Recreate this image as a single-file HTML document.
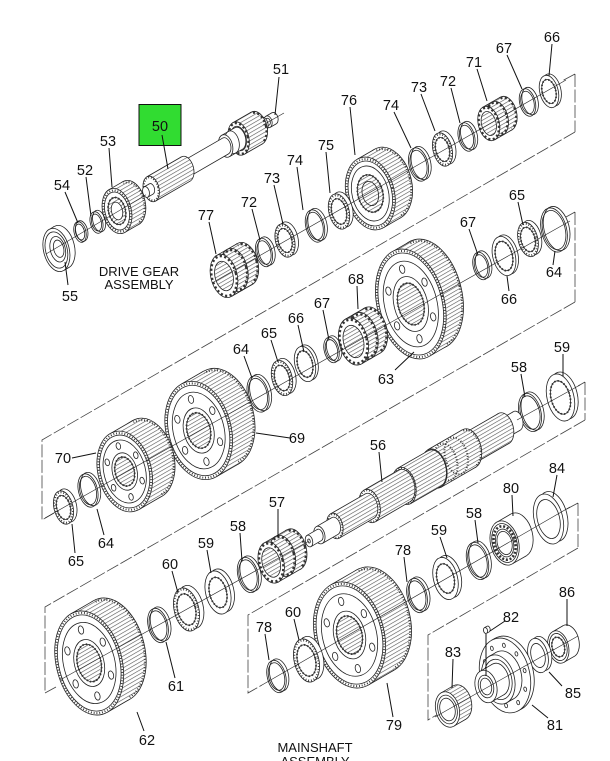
<!DOCTYPE html>
<html><head><meta charset="utf-8"><style>
html,body{margin:0;padding:0;background:#fff}
svg{display:block}
.o{fill:none;stroke:#222;stroke-width:.8}
.w{fill:#fff;stroke:#222;stroke-width:.8}
.f{fill:#fff}
.h{fill:url(#hp);stroke:#222;stroke-width:.8}
.hn{fill:url(#hp)}
.t{fill:none;stroke:#333;stroke-width:2;stroke-dasharray:.9 1.9}
.ti{fill:none;stroke:#333;stroke-width:1.8;stroke-dasharray:1.4 2}
.tb{fill:none;stroke:#333;stroke-width:2.4;stroke-dasharray:2.2 2.4}
.r{fill:none;stroke:#333;stroke-width:2.6;stroke-dasharray:2 1.8}
.d{fill:none;stroke:#444;stroke-width:.8;stroke-dasharray:13 2.5}
.ax{stroke:#222;stroke-width:.6;fill:none}
.ld{stroke:#111;stroke-width:1;fill:none}
text{font-family:"Liberation Sans",Arial,sans-serif;font-size:14.5px;fill:#111;text-anchor:middle}
.cap{font-size:13px}
</style></head><body>
<svg width="610" height="761" viewBox="0 0 610 761" xmlns="http://www.w3.org/2000/svg">
<defs><pattern id="hp" patternUnits="userSpaceOnUse" width="3.4" height="3.4" patternTransform="rotate(-16)"><rect width="3.4" height="3.4" fill="#fff"/><path d="M0 .8H3.4" stroke="#444" stroke-width=".55"/></pattern></defs>

<path class="d" d="M575,74V132M575,74L562,81M575,132L42,440V520L54,513M575,212V302M575,212L566,217M575,302L45,607V693L56,687M585,382V420M585,382L578,386M585,420L248,615V693L262,685M578,503V548M578,503L565,510M578,548L428,635V720L440,713"/>

<g transform="translate(268,121.8) rotate(-14)">
<ellipse cx="6.7" cy="-1.9" rx="4" ry="6" class="w"/>
<path class="f" d="M.7,5.9L7.4,4L6,-7.8L-.7,-5.9Z"/>
<path class="o" d="M.7,5.9L7.4,4M-.7,-5.9L6,-7.8"/>
<ellipse rx="4" ry="6" class="w"/><ellipse rx="2.3" ry="3.6" class="o"/>
</g>
<g transform="translate(146,192) rotate(-14)">
<ellipse cx="130.7" cy="-37.5" rx="4.2" ry="7" class="w"/>
<path class="f" d="M123.8,-28.4L131.5,-30.6L129.9,-44.4L122.2,-42.2Z"/>
<path class="o" d="M123.8,-28.4L131.5,-30.6M122.2,-42.2L129.9,-44.4"/>
<ellipse cx="123" cy="-35.3" rx="4.2" ry="7" class="w"/>
<ellipse cx="123" cy="-35.3" rx="10.2" ry="17" class="h"/>
<ellipse cx="123" cy="-35.3" rx="9.4" ry="15.7" class="tb"/>
<path class="hn" d="M104.6,-12.8L124.8,-18.6L121.2,-52L101,-46.2Z"/>
<path class="o" d="M104.6,-12.8L124.8,-18.6M101,-46.2L121.2,-52"/>
<ellipse cx="102.8" cy="-29.5" rx="10.2" ry="17" class="w"/>
<ellipse cx="102.8" cy="-29.5" rx="9.4" ry="15.7" class="tb"/>
<ellipse cx="102.8" cy="-29.5" rx="7.5" ry="12.5" class="o"/>
<ellipse cx="102.8" cy="-29.5" rx="6.9" ry="11.5" class="w"/>
<path class="f" d="M89.6,-14.1L104,-18.2L101.6,-40.8L87.2,-36.7Z"/>
<path class="o" d="M89.6,-14.1L104,-18.2M87.2,-36.7L101.6,-40.8"/>
<ellipse cx="95.6" cy="-27.5" rx="6.9" ry="11.5" class="o"/>
<ellipse cx="88.4" cy="-25.4" rx="6.9" ry="11.5" class="w"/>
<ellipse cx="88.4" cy="-25.4" rx="5.1" ry="8.5" class="w"/>
<path class="f" d="M45.1,-4.3L89.3,-17L87.5,-33.8L43.3,-21.1Z"/>
<path class="o" d="M45.1,-4.3L89.3,-17M43.3,-21.1L87.5,-33.8"/>
<ellipse cx="44.2" cy="-12.7" rx="5.1" ry="8.5" class="w"/>
<ellipse cx="44.2" cy="-12.7" rx="7.8" ry="13" class="h"/>
<path class="hn" d="M7.2,11.1L45.6,.1L42.8,-25.5L4.4,-14.5Z"/>
<path class="o" d="M7.2,11.1L45.6,.1M4.4,-14.5L42.8,-25.5"/>
<ellipse cx="5.8" cy="-1.7" rx="7.8" ry="13" class="w"/>
<ellipse cx="5.8" cy="-1.7" rx="7.1" ry="11.8" class="t"/>
<ellipse cx="5.8" cy="-1.7" rx="3.3" ry="5.5" class="w"/>
<path class="f" d="M.6,5.4L6.4,3.7L5.2,-7.1L-.6,-5.4Z"/>
<path class="o" d="M.6,5.4L6.4,3.7M-.6,-5.4L5.2,-7.1"/>
<ellipse rx="3.3" ry="5.5" class="w"/>
</g>
<g transform="translate(117,211) rotate(-14)">
<ellipse cx="15.4" cy="-4.4" rx="14.3" ry="23" class="h"/>
<ellipse cx="15.4" cy="-4.4" rx="13.1" ry="21" class="t"/>
<path class="hn" d="M2.6,22.6L18,18.2L12.8,-27L-2.6,-22.6Z"/>
<path class="o" d="M2.6,22.6L18,18.2M-2.6,-22.6L12.8,-27"/>
<ellipse rx="14.3" ry="23" class="w"/><ellipse rx="13.1" ry="21" class="t"/><ellipse rx="12" ry="19.3" class="o"/>
<ellipse rx="8.5" ry="13.8" class="h"/><ellipse rx="8.5" ry="13.8" class="ti"/><ellipse rx="5.5" ry="9" class="w"/>
</g>
<g transform="translate(96.5,222.5) rotate(-14)"><ellipse cx="2.9" cy="-.8" rx="6.2" ry="11" class="o"/><ellipse rx="6.2" ry="11" class="o"/><ellipse rx="4.8" ry="8.6" class="o"/></g>
<g transform="translate(80,232) rotate(-14)"><ellipse cx="1.9" cy="-.55" rx="5.9" ry="10.5" class="o"/><ellipse rx="5.9" ry="10.5" class="o"/><ellipse rx="4.5" ry="8.1" class="o"/></g>
<g transform="translate(56.4,250) rotate(-14)">
<ellipse cx="5.8" cy="-1.7" rx="12.8" ry="22" class="w"/>
<path class="f" d="M2.3,21.6L8.1,19.9L3.5,-23.3L-2.3,-21.6Z"/>
<path class="o" d="M2.3,21.6L8.1,19.9M-2.3,-21.6L3.5,-23.3"/>
<ellipse rx="12.8" ry="22" class="w"/><ellipse rx="10.8" ry="18.5" class="o"/>
<ellipse cx="1.5" cy="-.4" rx="7.5" ry="13" class="w"/><ellipse cx="2.5" cy="-.7" rx="5" ry="8.8" class="o"/>
</g>

<g transform="translate(549,91.5) rotate(-14)"><ellipse cx="2.9" cy="-.8" rx="9.2" ry="16.5" class="w"/><ellipse rx="9.2" ry="16.5" class="w"/><ellipse rx="6.8" ry="12.2" class="w"/><ellipse rx="6.8" ry="12.2" class="ti"/></g>
<g transform="translate(527.5,102.5) rotate(-14)"><ellipse cx="2.9" cy="-.8" rx="7.8" ry="14" class="o"/><ellipse rx="7.8" ry="14" class="o"/><ellipse rx="6.4" ry="11.5" class="o"/></g>
<g transform="translate(488.8,123.5) rotate(-14)">
<ellipse cx="19.2" cy="-5.5" rx="10.5" ry="17.5" class="h"/>
<ellipse cx="19.2" cy="-5.5" rx="9.7" ry="16.2" class="tb"/>
<path class="hn" d="M1.9,17.2L21.1,11.7L17.3,-22.7L-1.9,-17.2Z"/>
<path class="o" d="M1.9,17.2L21.1,11.7M-1.9,-17.2L17.3,-22.7"/>
<ellipse cx="9.6" cy="-2.8" rx="10.5" ry="17.5" class="o"/>
<ellipse cx="9.6" cy="-2.8" rx="9.7" ry="16.2" class="tb"/>
<ellipse rx="10.5" ry="17.5" class="w"/><ellipse rx="9.7" ry="16.2" class="tb"/><ellipse rx="7.3" ry="12.2" class="h"/>
</g>
<g transform="translate(466.5,137) rotate(-14)"><ellipse cx="2.9" cy="-.8" rx="8.1" ry="14.5" class="o"/><ellipse rx="8.1" ry="14.5" class="o"/><ellipse rx="6.7" ry="12" class="o"/></g>
<g transform="translate(442.5,149.5) rotate(-14)"><ellipse cx="3.8" cy="-1.1" rx="9.5" ry="17" class="w"/><ellipse rx="9.5" ry="17" class="w"/><ellipse rx="8.7" ry="15.5" class="t"/><ellipse rx="6.8" ry="12.2" class="w"/><ellipse rx="6.8" ry="12.2" class="ti"/></g>
<g transform="translate(418.5,164.5) rotate(-14)"><ellipse cx="2.9" cy="-.8" rx="9.5" ry="17" class="o"/><ellipse rx="9.5" ry="17" class="o"/><ellipse rx="8.1" ry="14.5" class="o"/></g>
<g transform="translate(370.3,193.5) rotate(-14)">
<ellipse cx="19.2" cy="-5.5" rx="24" ry="37" class="h"/>
<ellipse cx="19.2" cy="-5.5" rx="22.7" ry="35" class="t"/>
<path class="hn" d="M4.3,36.4L23.5,30.9L14.9,-41.9L-4.3,-36.4Z"/>
<path class="o" d="M4.3,36.4L23.5,30.9M-4.3,-36.4L14.9,-41.9"/>
<ellipse rx="24" ry="37" class="w"/><ellipse rx="22.7" ry="35" class="t"/><ellipse rx="21.4" ry="33" class="o"/>
<ellipse rx="18.2" ry="28" class="o"/>
<ellipse rx="12.5" ry="19" class="h"/><ellipse rx="12.5" ry="19" class="ti"/><ellipse rx="8" ry="12.3" class="o"/>
</g>
<g transform="translate(339,211.5) rotate(-14)"><ellipse cx="3.8" cy="-1.1" rx="10.1" ry="18" class="w"/><ellipse rx="10.1" ry="18" class="w"/><ellipse rx="9.3" ry="16.5" class="t"/><ellipse rx="7.3" ry="13" class="w"/><ellipse rx="7.3" ry="13" class="ti"/></g>
<g transform="translate(315,226) rotate(-14)"><ellipse cx="2.9" cy="-.8" rx="9.2" ry="16.5" class="o"/><ellipse rx="9.2" ry="16.5" class="o"/><ellipse rx="7.8" ry="14" class="o"/></g>
<g transform="translate(285,240.5) rotate(-14)"><ellipse cx="3.8" cy="-1.1" rx="9.5" ry="17" class="w"/><ellipse rx="9.5" ry="17" class="w"/><ellipse rx="8.7" ry="15.5" class="t"/><ellipse rx="6.8" ry="12.2" class="w"/><ellipse rx="6.8" ry="12.2" class="ti"/></g>
<g transform="translate(264,252.5) rotate(-14)"><ellipse cx="2.9" cy="-.8" rx="8.1" ry="14.5" class="o"/><ellipse rx="8.1" ry="14.5" class="o"/><ellipse rx="6.7" ry="12" class="o"/></g>
<g transform="translate(224,276) rotate(-14)">
<ellipse cx="23.1" cy="-6.6" rx="13.2" ry="22" class="h"/>
<ellipse cx="23.1" cy="-6.6" rx="12.2" ry="20.3" class="tb"/>
<path class="hn" d="M2.4,21.6L25.5,15L20.7,-28.2L-2.4,-21.6Z"/>
<path class="o" d="M2.4,21.6L25.5,15M-2.4,-21.6L20.7,-28.2"/>
<ellipse cx="11.5" cy="-3.3" rx="13.2" ry="22" class="o"/>
<ellipse cx="11.5" cy="-3.3" rx="12.2" ry="20.3" class="tb"/>
<ellipse rx="13.2" ry="22" class="w"/><ellipse rx="12.2" ry="20.3" class="tb"/><ellipse rx="9" ry="15" class="h"/>
</g>

<g transform="translate(554,230) rotate(-14)"><ellipse cx="2.9" cy="-.8" rx="12.6" ry="22.5" class="o"/><ellipse rx="12.6" ry="22.5" class="o"/><ellipse rx="11.2" ry="20" class="o"/></g>
<g transform="translate(528,239.5) rotate(-14)"><ellipse cx="3.8" cy="-1.1" rx="9.8" ry="17.5" class="w"/><ellipse rx="9.8" ry="17.5" class="w"/><ellipse rx="9" ry="16" class="t"/><ellipse rx="7" ry="12.5" class="w"/><ellipse rx="7" ry="12.5" class="ti"/></g>
<g transform="translate(504,256) rotate(-14)"><ellipse cx="2.9" cy="-.8" rx="11.2" ry="20" class="w"/><ellipse rx="11.2" ry="20" class="w"/><ellipse rx="8.4" ry="15" class="w"/><ellipse rx="8.4" ry="15" class="ti"/></g>
<g transform="translate(481,266) rotate(-14)"><ellipse cx="2.9" cy="-.8" rx="7.8" ry="14" class="o"/><ellipse rx="7.8" ry="14" class="o"/><ellipse rx="6.4" ry="11.5" class="o"/></g>
<g transform="translate(410.8,304) rotate(-14)">
<ellipse cx="19.2" cy="-5.5" rx="33.6" ry="56" class="h"/>
<ellipse cx="19.2" cy="-5.5" rx="32.4" ry="54" class="t"/>
<path class="hn" d="M6,55L25.2,49.5L13.2,-60.5L-6,-55Z"/>
<path class="o" d="M6,55L25.2,49.5M-6,-55L13.2,-60.5"/>
<ellipse rx="33.6" ry="56" class="w"/><ellipse rx="32.4" ry="54" class="t"/><ellipse rx="31.2" ry="52" class="o"/>
<ellipse rx="26.2" ry="43.7" class="o"/>
<ellipse cx="18.6" cy="17.9" rx="2.6" ry="4.2" class="o"/><ellipse cx="0" cy="35.8" rx="2.6" ry="4.2" class="o"/><ellipse cx="-18.6" cy="17.9" rx="2.6" ry="4.2" class="o"/><ellipse cx="-18.6" cy="-17.9" rx="2.6" ry="4.2" class="o"/><ellipse cx="0" cy="-35.8" rx="2.6" ry="4.2" class="o"/><ellipse cx="18.6" cy="-17.9" rx="2.6" ry="4.2" class="o"/>
<ellipse rx="16.8" ry="28" class="o"/>
<ellipse rx="12.8" ry="21.3" class="h"/><ellipse rx="12.8" ry="21.3" class="ti"/>
</g>
<g transform="translate(353.5,341.5) rotate(-14)">
<ellipse cx="21.1" cy="-6.1" rx="14.4" ry="24" class="h"/>
<ellipse cx="21.1" cy="-6.1" rx="13.3" ry="22.2" class="tb"/>
<path class="hn" d="M2.6,23.6L23.7,17.5L18.5,-29.7L-2.6,-23.6Z"/>
<path class="o" d="M2.6,23.6L23.7,17.5M-2.6,-23.6L18.5,-29.7"/>
<ellipse cx="10.6" cy="-3" rx="14.4" ry="24" class="o"/>
<ellipse cx="10.6" cy="-3" rx="13.3" ry="22.2" class="tb"/>
<ellipse rx="14.4" ry="24" class="w"/><ellipse rx="13.3" ry="22.2" class="tb"/><ellipse rx="10" ry="16.5" class="h"/>
</g>
<g transform="translate(331.5,350) rotate(-14)"><ellipse cx="2.9" cy="-.8" rx="7.3" ry="13" class="o"/><ellipse rx="7.3" ry="13" class="o"/><ellipse rx="5.9" ry="10.5" class="o"/></g>
<g transform="translate(305,364) rotate(-14)"><ellipse cx="2.9" cy="-.8" rx="10.1" ry="18" class="w"/><ellipse rx="10.1" ry="18" class="w"/><ellipse rx="7.5" ry="13.5" class="w"/><ellipse rx="7.5" ry="13.5" class="ti"/></g>
<g transform="translate(282,378) rotate(-14)"><ellipse cx="3.8" cy="-1.1" rx="10.1" ry="18" class="w"/><ellipse rx="10.1" ry="18" class="w"/><ellipse rx="9.3" ry="16.5" class="t"/><ellipse rx="7.3" ry="13" class="w"/><ellipse rx="7.3" ry="13" class="ti"/></g>
<g transform="translate(258,394) rotate(-14)"><ellipse cx="2.9" cy="-.8" rx="10.4" ry="18.5" class="o"/><ellipse rx="10.4" ry="18.5" class="o"/><ellipse rx="9" ry="16" class="o"/></g>
<g transform="translate(198.7,430.5) rotate(-14)">
<ellipse cx="25" cy="-7.2" rx="32.5" ry="50" class="h"/>
<ellipse cx="25" cy="-7.2" rx="31.2" ry="48" class="t"/>
<path class="hn" d="M5.85,49.2L30.85,42L19.15,-56.4L-5.85,-49.2Z"/>
<path class="o" d="M5.85,49.2L30.85,42M-5.85,-49.2L19.15,-56.4"/>
<ellipse rx="32.5" ry="50" class="w"/><ellipse rx="31.2" ry="48" class="t"/><ellipse rx="29.9" ry="46" class="o"/>
<ellipse rx="25.4" ry="39" class="o"/>
<ellipse cx="18" cy="16" rx="2.6" ry="4" class="o"/><ellipse cx="0" cy="32" rx="2.6" ry="4" class="o"/><ellipse cx="-18" cy="16" rx="2.6" ry="4" class="o"/><ellipse cx="-18" cy="-16" rx="2.6" ry="4" class="o"/><ellipse cx="0" cy="-32" rx="2.6" ry="4" class="o"/><ellipse cx="18" cy="-16" rx="2.6" ry="4" class="o"/>
<ellipse rx="15" ry="23" class="o"/>
<ellipse rx="11.7" ry="18" class="h"/><ellipse rx="11.7" ry="18" class="ti"/>
</g>
<g transform="translate(124.7,471.5) rotate(-14)">
<ellipse cx="25" cy="-7.2" rx="26.7" ry="41" class="h"/>
<ellipse cx="25" cy="-7.2" rx="25.4" ry="39" class="t"/>
<path class="hn" d="M4.8,40.3L29.8,33.1L20.2,-47.5L-4.8,-40.3Z"/>
<path class="o" d="M4.8,40.3L29.8,33.1M-4.8,-40.3L20.2,-47.5"/>
<ellipse rx="26.7" ry="41" class="w"/><ellipse rx="25.4" ry="39" class="t"/><ellipse rx="24.1" ry="37" class="o"/>
<ellipse rx="20.8" ry="32" class="o"/>
<ellipse cx="14.7" cy="13.1" rx="2.2" ry="3.4" class="o"/><ellipse cx="0" cy="26.2" rx="2.2" ry="3.4" class="o"/><ellipse cx="-14.7" cy="13.1" rx="2.2" ry="3.4" class="o"/><ellipse cx="-14.7" cy="-13.1" rx="2.2" ry="3.4" class="o"/><ellipse cx="0" cy="-26.2" rx="2.2" ry="3.4" class="o"/><ellipse cx="14.7" cy="-13.1" rx="2.2" ry="3.4" class="o"/>
<ellipse rx="12.3" ry="19" class="o"/>
<ellipse rx="9.6" ry="14.8" class="h"/><ellipse rx="9.6" ry="14.8" class="ti"/>
</g>
<g transform="translate(88,490.5) rotate(-14)"><ellipse cx="2.9" cy="-.8" rx="9.5" ry="17" class="o"/><ellipse rx="9.5" ry="17" class="o"/><ellipse rx="8.1" ry="14.5" class="o"/></g>
<g transform="translate(63.5,507.5) rotate(-14)"><ellipse cx="3.8" cy="-1.1" rx="9.5" ry="17" class="w"/><ellipse rx="9.5" ry="17" class="w"/><ellipse rx="8.7" ry="15.5" class="t"/><ellipse rx="6.8" ry="12.2" class="w"/><ellipse rx="6.8" ry="12.2" class="ti"/></g>

<g transform="translate(560.5,397.5) rotate(-14)"><ellipse cx="3.8" cy="-1.1" rx="13.4" ry="24" class="w"/><ellipse rx="13.4" ry="24" class="w"/><ellipse rx="9.5" ry="17" class="w"/><ellipse rx="9.5" ry="17" class="ti"/></g>
<g transform="translate(530,412.5) rotate(-14)"><ellipse cx="2.9" cy="-.8" rx="10.9" ry="19.5" class="o"/><ellipse rx="10.9" ry="19.5" class="o"/><ellipse rx="9.5" ry="17" class="o"/></g>
<g transform="translate(309,541) rotate(-14)">
<ellipse cx="230.6" cy="-66.2" rx="6" ry="10" class="w"/>
<path class="f" d="M217.3,-52.3L231.7,-56.4L229.5,-76L215.1,-71.9Z"/>
<path class="o" d="M217.3,-52.3L231.7,-56.4M215.1,-71.9L229.5,-76"/>
<ellipse cx="216.2" cy="-62.1" rx="6" ry="10" class="w"/>
<ellipse cx="216.2" cy="-62.1" rx="9.6" ry="16" class="h"/>
<path class="hn" d="M179.5,-35.4L217.9,-46.4L214.5,-77.8L176.1,-66.8Z"/>
<path class="o" d="M179.5,-35.4L217.9,-46.4M176.1,-66.8L214.5,-77.8"/>
<ellipse cx="177.8" cy="-51.1" rx="9.6" ry="16" class="w"/>
<ellipse cx="177.8" cy="-51.1" rx="9" ry="15" class="t"/>
<ellipse cx="177.8" cy="-51.1" rx="12" ry="20" class="h"/>
<ellipse cx="177.8" cy="-51.1" rx="11.2" ry="18.7" class="t"/>
<path class="hn" d="M141.5,-20.3L180,-31.4L175.6,-70.8L137.1,-59.7Z"/>
<path class="o" d="M141.5,-20.3L180,-31.4M137.1,-59.7L175.6,-70.8"/>
<ellipse cx="163.4" cy="-46.9" rx="11.2" ry="18.7" class="t"/>
<ellipse cx="151.8" cy="-43.6" rx="11.2" ry="18.7" class="t"/>
<ellipse cx="139.3" cy="-40" rx="12" ry="20" class="w"/>
<ellipse cx="139.3" cy="-40" rx="11.2" ry="18.7" class="t"/>
<ellipse cx="139.3" cy="-40" rx="11.4" ry="19" class="h"/>
<path class="hn" d="M107.8,-11.7L141.4,-21.3L137.3,-58.7L103.7,-49.1Z"/>
<path class="o" d="M107.8,-11.7L141.4,-21.3M103.7,-49.1L137.3,-58.7"/>
<ellipse cx="105.7" cy="-30.4" rx="11.4" ry="19" class="w"/>
<ellipse cx="105.7" cy="-30.4" rx="10.8" ry="18" class="t"/>
<ellipse cx="105.7" cy="-30.4" rx="10.2" ry="17" class="h"/>
<path class="hn" d="M69.1,-2.6L107.5,-13.7L103.9,-47.1L65.5,-36Z"/>
<path class="o" d="M69.1,-2.6L107.5,-13.7M65.5,-36L103.9,-47.1"/>
<ellipse cx="67.3" cy="-19.3" rx="10.2" ry="17" class="w"/>
<ellipse cx="67.3" cy="-19.3" rx="9.6" ry="16" class="t"/>
<ellipse cx="67.3" cy="-19.3" rx="7.8" ry="13" class="h"/>
<path class="hn" d="M30.2,4.5L68.7,-6.5L65.9,-32.1L27.4,-21.1Z"/>
<path class="o" d="M30.2,4.5L68.7,-6.5M27.4,-21.1L65.9,-32.1"/>
<ellipse cx="28.8" cy="-8.3" rx="7.8" ry="13" class="w"/>
<ellipse cx="28.8" cy="-8.3" rx="7.2" ry="12" class="t"/>
<ellipse cx="28.8" cy="-8.3" rx="5.4" ry="9" class="w"/>
<path class="f" d="M12.5,5.55L29.8,.55L27.8,-17.15L10.5,-12.15Z"/>
<path class="o" d="M12.5,5.55L29.8,.55M10.5,-12.15L27.8,-17.15"/>
<ellipse cx="11.5" cy="-3.3" rx="5.4" ry="9" class="w"/>
<ellipse cx="11.5" cy="-3.3" rx="3.6" ry="6" class="w"/>
<path class="f" d="M.65,5.9L12.15,2.6L10.85,-9.2L-.65,-5.9Z"/>
<path class="o" d="M.65,5.9L12.15,2.6M-.65,-5.9L10.85,-9.2"/>
<ellipse rx="3.6" ry="6" class="w"/><ellipse rx="1.2" ry="2" class="o"/>
</g>
<g transform="translate(271.2,562.5) rotate(-14)">
<ellipse cx="25" cy="-7.2" rx="12.6" ry="21" class="h"/>
<ellipse cx="25" cy="-7.2" rx="11.6" ry="19.4" class="tb"/>
<path class="hn" d="M2.3,20.6L27.3,13.4L22.7,-27.8L-2.3,-20.6Z"/>
<path class="o" d="M2.3,20.6L27.3,13.4M-2.3,-20.6L22.7,-27.8"/>
<ellipse cx="12.5" cy="-3.6" rx="12.6" ry="21" class="o"/>
<ellipse cx="12.5" cy="-3.6" rx="11.6" ry="19.4" class="tb"/>
<ellipse rx="12.6" ry="21" class="w"/><ellipse rx="11.6" ry="19.4" class="tb"/><ellipse rx="9" ry="15" class="h"/>
</g>
<g transform="translate(248,575) rotate(-14)"><ellipse cx="2.9" cy="-.8" rx="10.1" ry="18" class="o"/><ellipse rx="10.1" ry="18" class="o"/><ellipse rx="8.7" ry="15.5" class="o"/></g>
<g transform="translate(218,592.5) rotate(-14)"><ellipse cx="3.8" cy="-1.1" rx="12.3" ry="22" class="w"/><ellipse rx="12.3" ry="22" class="w"/><ellipse rx="8.5" ry="15.5" class="w"/><ellipse rx="8.5" ry="15.5" class="ti"/></g>
<g transform="translate(186.5,609.5) rotate(-14)"><ellipse cx="4.8" cy="-1.4" rx="12.3" ry="22" class="w"/><ellipse rx="12.3" ry="22" class="w"/><ellipse rx="11.5" ry="20.5" class="t"/><ellipse rx="9" ry="16" class="w"/><ellipse rx="9" ry="16" class="ti"/></g>
<g transform="translate(158,625.5) rotate(-14)"><ellipse cx="2.9" cy="-.8" rx="9.8" ry="17.5" class="o"/><ellipse rx="9.8" ry="17.5" class="o"/><ellipse rx="8.4" ry="15" class="o"/></g>
<g transform="translate(89.2,663) rotate(-14)">
<ellipse cx="25" cy="-7.2" rx="32.9" ry="53" class="h"/>
<ellipse cx="25" cy="-7.2" rx="31.7" ry="51" class="t"/>
<path class="hn" d="M5.9,52.1L30.9,44.9L19.1,-59.3L-5.9,-52.1Z"/>
<path class="o" d="M5.9,52.1L30.9,44.9M-5.9,-52.1L19.1,-59.3"/>
<ellipse rx="32.9" ry="53" class="w"/><ellipse rx="31.7" ry="51" class="t"/><ellipse rx="30.4" ry="49" class="o"/>
<ellipse rx="25.6" ry="41.3" class="o"/>
<ellipse cx="18.2" cy="17" rx="2.6" ry="4.2" class="o"/><ellipse cx="0" cy="34" rx="2.6" ry="4.2" class="o"/><ellipse cx="-18.2" cy="17" rx="2.6" ry="4.2" class="o"/><ellipse cx="-18.2" cy="-17" rx="2.6" ry="4.2" class="o"/><ellipse cx="0" cy="-34" rx="2.6" ry="4.2" class="o"/><ellipse cx="18.2" cy="-17" rx="2.6" ry="4.2" class="o"/>
<ellipse rx="14.8" ry="23.9" class="o"/>
<ellipse rx="11.8" ry="19.1" class="h"/><ellipse rx="11.8" ry="19.1" class="ti"/>
</g>

<g transform="translate(548.5,519) rotate(-14)"><ellipse cx="4.8" cy="-1.4" rx="14.3" ry="25.5" class="w"/><ellipse rx="14.3" ry="25.5" class="w"/><ellipse rx="11.1" ry="19.9" class="w"/></g>
<g transform="translate(504.6,543) rotate(-14)">
<ellipse cx="15.4" cy="-4.4" rx="14" ry="22.5" class="w"/>
<path class="f" d="M2.5,22.1L17.9,17.7L12.9,-26.5L-2.5,-22.1Z"/>
<path class="o" d="M2.5,22.1L17.9,17.7M-2.5,-22.1L12.9,-26.5"/>
<ellipse rx="14" ry="22.5" class="w"/><ellipse rx="12.3" ry="19.8" class="o"/>
<ellipse rx="10.6" ry="17" class="r"/>
<ellipse rx="8.8" ry="14.2" class="o"/><ellipse rx="7.3" ry="11.8" class="w"/>
</g>
<g transform="translate(477.5,561) rotate(-14)"><ellipse cx="2.9" cy="-.8" rx="10.6" ry="19" class="o"/><ellipse rx="10.6" ry="19" class="o"/><ellipse rx="9.2" ry="16.5" class="o"/></g>
<g transform="translate(445.5,578.5) rotate(-14)"><ellipse cx="3.8" cy="-1.1" rx="12" ry="21.5" class="w"/><ellipse rx="12" ry="21.5" class="w"/><ellipse rx="8.5" ry="15" class="w"/><ellipse rx="8.5" ry="15" class="ti"/></g>
<g transform="translate(417,595.5) rotate(-14)"><ellipse cx="2.9" cy="-.8" rx="9.8" ry="17.5" class="o"/><ellipse rx="9.8" ry="17.5" class="o"/><ellipse rx="8.4" ry="15" class="o"/></g>
<g transform="translate(349.5,635) rotate(-14)">
<ellipse cx="28.8" cy="-8.3" rx="34.6" ry="54" class="h"/>
<ellipse cx="28.8" cy="-8.3" rx="33.3" ry="52" class="t"/>
<path class="hn" d="M6.2,53.1L35,44.8L22.6,-61.4L-6.2,-53.1Z"/>
<path class="o" d="M6.2,53.1L35,44.8M-6.2,-53.1L22.6,-61.4"/>
<ellipse rx="34.6" ry="54" class="w"/><ellipse rx="33.3" ry="52" class="t"/><ellipse rx="32" ry="50" class="o"/>
<ellipse rx="27" ry="42" class="o"/>
<ellipse cx="19.1" cy="17.3" rx="2.6" ry="4.2" class="o"/><ellipse cx="0" cy="34.6" rx="2.6" ry="4.2" class="o"/><ellipse cx="-19.1" cy="17.3" rx="2.6" ry="4.2" class="o"/><ellipse cx="-19.1" cy="-17.3" rx="2.6" ry="4.2" class="o"/><ellipse cx="0" cy="-34.6" rx="2.6" ry="4.2" class="o"/><ellipse cx="19.1" cy="-17.3" rx="2.6" ry="4.2" class="o"/>
<ellipse rx="15.6" ry="24.3" class="o"/>
<ellipse rx="12.5" ry="19.4" class="h"/><ellipse rx="12.5" ry="19.4" class="ti"/>
</g>
<g transform="translate(306.5,660.5) rotate(-14)"><ellipse cx="4.8" cy="-1.4" rx="12.3" ry="22" class="w"/><ellipse rx="12.3" ry="22" class="w"/><ellipse rx="11.5" ry="20.5" class="t"/><ellipse rx="9" ry="16" class="w"/><ellipse rx="9" ry="16" class="ti"/></g>
<g transform="translate(276.5,676.5) rotate(-14)"><ellipse cx="2.9" cy="-.8" rx="9.2" ry="16.5" class="o"/><ellipse rx="9.2" ry="16.5" class="o"/><ellipse rx="7.8" ry="14" class="o"/></g>

<g transform="translate(558.3,647) rotate(-14)">
<ellipse cx="11.5" cy="-3.3" rx="10.2" ry="16.5" class="w"/>
<path class="f" d="M1.8,16.2L13.3,12.9L9.7,-19.5L-1.8,-16.2Z"/>
<path class="o" d="M1.8,16.2L13.3,12.9M-1.8,-16.2L9.7,-19.5"/>
<ellipse rx="10.2" ry="16.5" class="w"/><ellipse rx="8.5" ry="13.8" class="o"/>
<ellipse rx="6.2" ry="10" class="w"/><ellipse rx="6.2" ry="10" class="ti"/>
</g>
<g transform="translate(538,655.5) rotate(-14)"><ellipse cx="3.8" cy="-1.1" rx="9.8" ry="17.5" class="w"/><ellipse rx="9.8" ry="17.5" class="w"/><ellipse rx="6.9" ry="12.3" class="w"/></g>
<g transform="translate(486,686.5) rotate(-14)">
<ellipse cx="25" cy="-7.2" rx="24.7" ry="38" class="w"/>
<path class="f" d="M25.5,31.3L29.4,30.2L20.6,-44.6L16.7,-43.5Z"/>
<path class="o" d="M25.5,31.3L29.4,30.2M16.7,-43.5L20.6,-44.6"/>
<ellipse cx="21.1" cy="-6.1" rx="24.7" ry="38" class="w"/>
<ellipse cx="41.3" cy="-6.1" rx="1.4" ry="2.2" class="o"/><ellipse cx="37.4" cy="12.1" rx="1.4" ry="2.2" class="o"/><ellipse cx="27.3" cy="23.4" rx="1.4" ry="2.2" class="o"/><ellipse cx="14.9" cy="23.4" rx="1.4" ry="2.2" class="o"/><ellipse cx="4.8" cy="12.1" rx="1.4" ry="2.2" class="o"/><ellipse cx="4.8" cy="-24.3" rx="1.4" ry="2.2" class="o"/><ellipse cx="14.9" cy="-35.6" rx="1.4" ry="2.2" class="o"/><ellipse cx="27.3" cy="-35.6" rx="1.4" ry="2.2" class="o"/><ellipse cx="37.4" cy="-24.3" rx="1.4" ry="2.2" class="o"/>
<ellipse cx="21.1" cy="-6.1" rx="16.3" ry="25" class="w"/>
<path class="f" d="M16.4,20.7L24,18.5L18.2,-30.7L10.6,-28.5Z"/>
<path class="o" d="M16.4,20.7L24,18.5M10.6,-28.5L18.2,-30.7"/>
<ellipse cx="13.5" cy="-3.9" rx="16.3" ry="25" class="w"/>
<ellipse cx="13.5" cy="-3.9" rx="13.5" ry="20.5" class="o"/>
<ellipse cx="13.5" cy="-3.9" rx="10.7" ry="16.5" class="w"/>
<path class="f" d="M1.9,16.2L15.4,12.3L11.6,-20.1L-1.9,-16.2Z"/>
<path class="o" d="M1.9,16.2L15.4,12.3M-1.9,-16.2L11.6,-20.1"/>
<ellipse rx="10.7" ry="16.5" class="w"/><ellipse rx="7.5" ry="11.5" class="o"/><ellipse rx="5.5" ry="8.5" class="o"/>
</g>
<g transform="translate(485.5,630.5) rotate(-14)"><ellipse cx="2.9" cy="-.8" rx="2" ry="3" class="w"/><path class="f" d="M.4,3L3.3,2.2L2.5,-3.8L-.4,-3Z"/><path class="o" d="M.4,3L3.3,2.2M-.4,-3L2.5,-3.8"/><ellipse rx="2" ry="3" class="w"/></g>
<g transform="translate(447.5,709.5) rotate(-14)">
<ellipse cx="13.5" cy="-3.9" rx="11.7" ry="18" class="h"/>
<path class="hn" d="M2.1,17.7L15.6,13.8L11.4,-21.6L-2.1,-17.7Z"/>
<path class="o" d="M2.1,17.7L15.6,13.8M-2.1,-17.7L11.4,-21.6"/>
<ellipse rx="11.7" ry="18" class="w"/><ellipse rx="9.5" ry="14.6" class="o"/><ellipse rx="7.5" ry="11.5" class="w"/>
</g>

<path class="ax" d="M46,254L146,194.8M263,125L284,113M212,283L566,80M45,518L570,221M60,680L309,541M517,420L580,385M262,685L570,507M435,717L578,636"/>

<rect x="139" y="104.5" width="42" height="41" fill="#31dc31" stroke="#111" stroke-width="1"/>

<path class="ld" d="M279,77L275,115M162,135L168,169M109,148L112,187M86,177L91,216M65,192L78,223M68,285L65,262M209,222L216,254M252,209L260,240M274,185L283,224M297,167L303,210M326,152L330,193M350,107L355,155M394,112L411,148M421,94L435,131M451,88L460,123M477,69L487,101M507,55L522,89M552,44L549,76M518,202L523,225M469,229L478,255M553,265L555,251M509,291L507,276M357,286L358,309M323,310L329,340M395,370L414,352M298,325L304,352M271,340L278,362M244,356L252,378M290,438L256,433M72,458L96,453M104,535L97,509M75,553L72,524M278,509L278,537M240,533L242,561M207,550L211,573M172,571L178,593M175,678L166,642M144,731L137,712M521,374L525,397M563,354L563,376M379,452L382,482M557,475L553,497M512,495L513,516M475,520L478,543M440,537L447,558M404,557L407,582M294,619L299,640M265,634L269,660M393,717L387,683M567,599L567,626M505,621L490,631M453,659L452,688M562,686L549,672M548,718L532,705M486,634L486,676"/>

<text x="281" y="74">51</text>
<text x="160" y="131">50</text>
<text x="108" y="146">53</text>
<text x="85" y="175">52</text>
<text x="62" y="190">54</text>
<text x="70" y="301">55</text>
<text x="206" y="220">77</text>
<text x="249" y="207">72</text>
<text x="272" y="183">73</text>
<text x="295" y="165">74</text>
<text x="326" y="150">75</text>
<text x="349" y="105">76</text>
<text x="391" y="110">74</text>
<text x="419" y="92">73</text>
<text x="448" y="86">72</text>
<text x="474" y="67">71</text>
<text x="504" y="53">67</text>
<text x="552" y="42">66</text>
<text x="517" y="200">65</text>
<text x="468" y="227">67</text>
<text x="554" y="277">64</text>
<text x="509" y="304">66</text>
<text x="356" y="284">68</text>
<text x="322" y="308">67</text>
<text x="386" y="384">63</text>
<text x="296" y="323">66</text>
<text x="269" y="338">65</text>
<text x="241" y="354">64</text>
<text x="297" y="443">69</text>
<text x="63" y="463">70</text>
<text x="106" y="548">64</text>
<text x="76" y="566">65</text>
<text x="277" y="507">57</text>
<text x="238" y="531">58</text>
<text x="206" y="548">59</text>
<text x="170" y="569">60</text>
<text x="176" y="691">61</text>
<text x="147" y="745">62</text>
<text x="519" y="372">58</text>
<text x="562" y="352">59</text>
<text x="378" y="450">56</text>
<text x="557" y="473">84</text>
<text x="511" y="493">80</text>
<text x="474" y="518">58</text>
<text x="439" y="535">59</text>
<text x="403" y="555">78</text>
<text x="293" y="617">60</text>
<text x="264" y="632">78</text>
<text x="394" y="730">79</text>
<text x="567" y="597">86</text>
<text x="511" y="622">82</text>
<text x="453" y="657">83</text>
<text x="573" y="698">85</text>
<text x="555" y="730">81</text>
<text class="cap" x="139" y="276">DRIVE GEAR</text>
<text class="cap" x="139" y="289">ASSEMBLY</text>
<text class="cap" x="315" y="752">MAINSHAFT</text>
<text class="cap" x="315" y="766">ASSEMBLY</text>
</svg>
</body></html>
